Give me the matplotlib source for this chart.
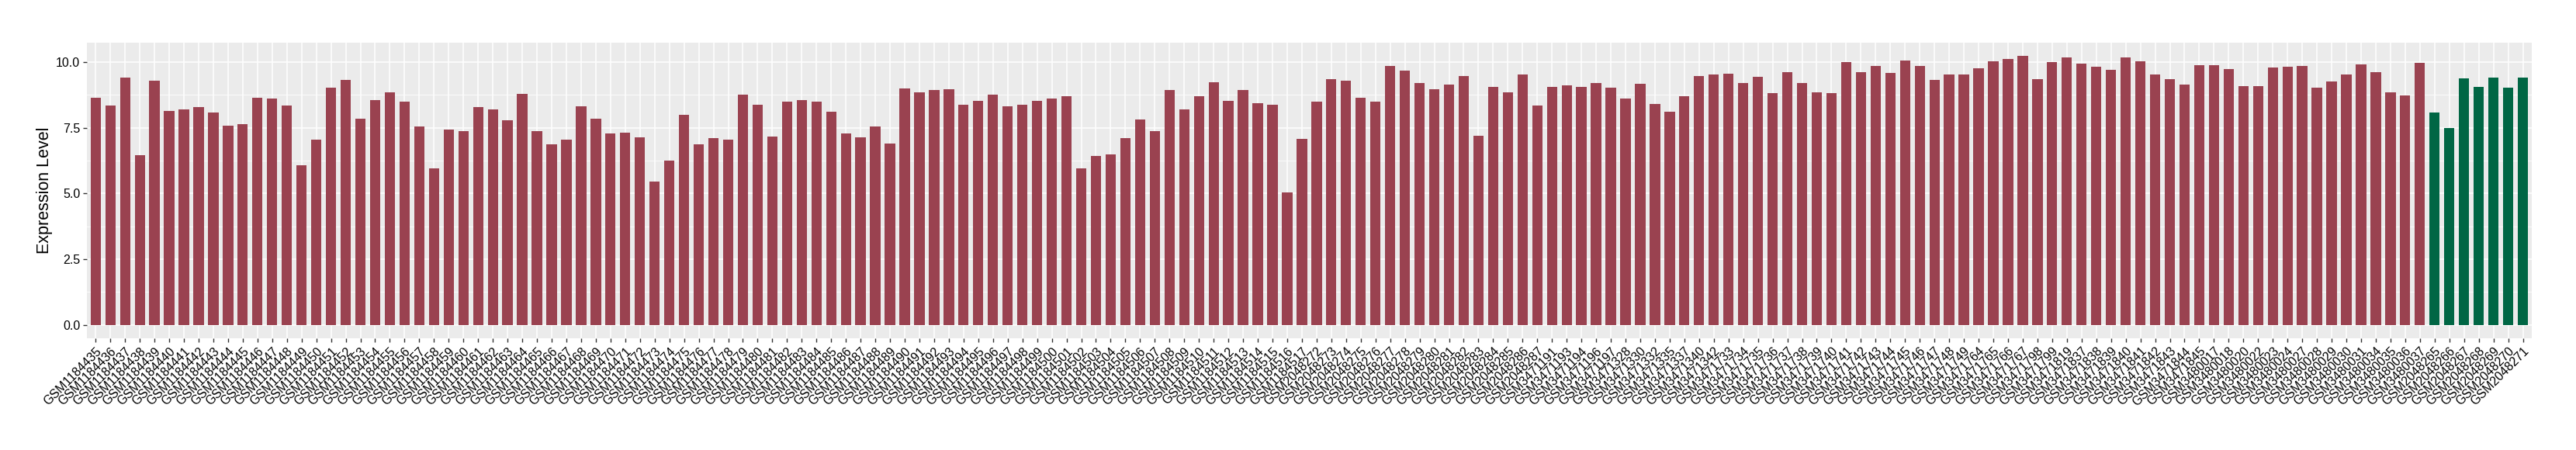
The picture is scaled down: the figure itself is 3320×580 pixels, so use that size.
import numpy as np
import matplotlib
matplotlib.use("Agg")
import matplotlib.pyplot as plt
from matplotlib.ticker import FixedLocator, FormatStrFormatter

# sample ids in plotting order: red group first, then green group
red_ids = ([f"GSM{n}" for n in range(1184435, 1184518)]
           + [f"GSM{n}" for n in range(2048272, 2048288)]
           + ["GSM3471191", "GSM3471193", "GSM3471194", "GSM3471196", "GSM3471197",
              "GSM3471328", "GSM3471330", "GSM3471332", "GSM3471335", "GSM3471337",
              "GSM3471340", "GSM3471342"]
           + [f"GSM{n}" for n in range(3471733, 3471750)]
           + ["GSM3471764", "GSM3471765", "GSM3471766", "GSM3471767", "GSM3471798",
              "GSM3471799", "GSM3471819"]
           + [f"GSM{n}" for n in range(3471837, 3471846)]
           + ["GSM3480017", "GSM3480018", "GSM3480020", "GSM3480022", "GSM3480023",
              "GSM3480024", "GSM3480027", "GSM3480028", "GSM3480029", "GSM3480030",
              "GSM3480031", "GSM3480034", "GSM3480035", "GSM3480036", "GSM3480037"])
green_ids = [f"GSM{n}" for n in range(2048265, 2048272)]

red_values = [
    8.65, 8.33, 9.40, 6.45, 9.28, 8.15, 8.21, 8.30, 8.09, 7.58, 7.64, 8.65, 8.60,
    8.33, 6.06, 7.04, 9.02, 9.32, 7.85, 8.56, 8.86, 8.48, 7.55, 5.94, 7.44, 7.37,
    8.28, 8.19, 7.77, 8.78, 7.38, 6.87, 7.05, 8.31, 7.83, 7.29, 7.32, 7.14, 5.44,
    6.25, 7.98, 6.87, 7.11, 7.05, 8.75, 8.37, 7.17, 8.49, 8.55, 8.49, 8.10, 7.29,
    7.14, 7.56, 6.90, 8.99, 8.84, 8.93, 8.96, 8.37, 8.52, 8.75, 8.31, 8.37, 8.52,
    8.61, 8.70, 5.95, 6.42, 6.48, 7.11, 7.80, 7.38, 8.93, 8.21, 8.70, 9.23, 8.52,
    8.93, 8.43, 8.37, 5.05, 7.08, 8.49, 9.36, 9.29, 8.64, 8.49, 9.86, 9.68, 9.20,
    8.96, 9.14, 9.47, 7.20, 9.05, 8.84, 9.53, 8.34, 9.05, 9.11, 9.05, 9.20, 9.02,
    8.61, 9.17, 8.40, 8.10, 8.70, 9.47, 9.53, 9.56, 9.20, 9.44, 8.81, 9.62, 9.20,
    8.84, 8.81, 10.01, 9.62, 9.86, 9.59, 10.07, 9.86, 9.32, 9.53, 9.53, 9.77, 10.04,
    10.10, 10.22, 9.35, 10.01, 10.16, 9.95, 9.83, 9.71, 10.16, 10.04, 9.53, 9.35,
    9.14, 9.89, 9.89, 9.74, 9.08, 9.08, 9.80, 9.83, 9.86, 9.02, 9.25, 9.53, 9.91,
    9.61, 8.86, 8.74, 9.97]
green_values = [8.09, 7.49, 9.37, 9.05, 9.40, 9.02, 9.40]

y_ticks = [0.0, 2.5, 5.0, 7.5, 10.0]
y_minor = [1.25, 3.75, 6.25, 8.75]

RED = "#9A4250"
GREEN = "#006644"

plt.rcParams["font.family"] = ["Liberation Sans", "DejaVu Sans"]

ids = red_ids + green_ids
x = np.arange(len(ids))
n_red = len(red_values)

fig = plt.figure(figsize=(33.2, 5.8), dpi=100)
ax = fig.add_axes([0.0337, 0.248, 0.9491, 0.657])

ax.bar(x[:n_red], red_values, width=0.7, color=RED, zorder=2)
ax.bar(x[n_red:], green_values, width=0.7, color=GREEN, zorder=2)

# ggplot-like expansion
ymax = max(red_values + green_values)
ax.set_xlim(-0.6, len(ids) - 1 + 0.6)
ax.set_ylim(-0.05 * ymax, ymax * 1.05)

ax.set_facecolor("#EBEBEB")
ax.set_xticks(x)
ax.set_xticklabels(ids, rotation=45, ha="right", va="top",
                   rotation_mode="anchor", fontsize=11, color="black")
ax.yaxis.set_major_locator(FixedLocator(y_ticks))
ax.yaxis.set_minor_locator(FixedLocator(y_minor))
ax.yaxis.set_major_formatter(FormatStrFormatter("%.1f"))
ax.tick_params(axis="both", which="major", length=3.8, width=1.0,
               color="#333333", labelsize=11.5, labelcolor="black", pad=2.5)
ax.tick_params(axis="y", which="minor", length=0)
ax.grid(which="major", color="white", linewidth=1.1, zorder=0)
ax.grid(which="minor", axis="y", color="white", linewidth=0.55, zorder=0)
ax.set_axisbelow(True)
for s in ax.spines.values():
    s.set_visible(False)

ax.set_ylabel("Expression Level", fontsize=15.5, labelpad=3)

fig.savefig("out.png", dpi=100)
